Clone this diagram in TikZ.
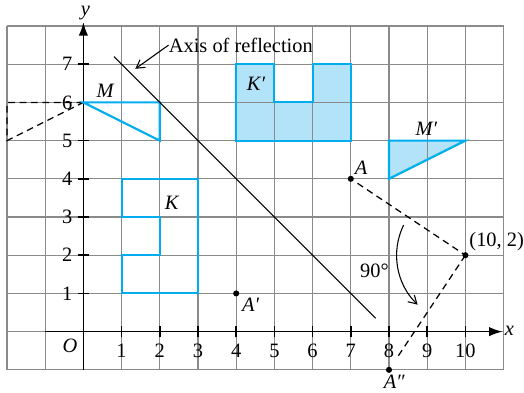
\documentclass[tikz,border=0pt]{standalone}
\usepackage{fontspec}
\setmainfont{Liberation Serif}
\usetikzlibrary{arrows.meta}
\definecolor{sblue}{HTML}{00AEEF}
\definecolor{sfill}{HTML}{B3E3F9}
\definecolor{gridgray}{HTML}{8A8A8A}
\begin{document}
\begin{tikzpicture}[x=1cm,y=1cm,font=\fontsize{15.2}{18}\selectfont,
  shapeline/.style={draw=sblue,line width=1.6pt,line join=miter},
  shapefill/.style={fill=sfill},
  axisline/.style={line width=1.1pt,-{Latex[length=10pt,width=7pt]}},
  dashline/.style={line width=0.9pt,dash pattern=on 5pt off 3.5pt},
  tick/.style={line width=1.1pt},
  dot/.style={fill=black},
  lbl/.style={inner sep=0pt}
]
\useasboundingbox (-2.183,-1.581) rectangle (11.534,8.681);
% fills
\fill[shapefill] (4,5) -- (7,5) -- (7,7) -- (6,7) -- (6,6) -- (5,6) -- (5,7) -- (4,7) -- cycle;
\fill[shapefill] (8,4) -- (10,5) -- (8,5) -- cycle;
% grid
\draw[gridgray,line width=0.8pt] (-2,-1) grid (11,8);
% axes
\draw[axisline] (-1,0) -- (10.97,0);
\draw[axisline] (0,-1) -- (0,8.1);
\node[lbl] (xl) at (11.15,0.02) {\textit{x}};
\node[lbl] (yl) at (0.05,8.33) {\textit{y}};
\node[lbl] (O) at (-0.35,-0.38) {\textit{O}};
\foreach \i in {1,...,10}{
  \draw[tick] (\i,-0.15) -- (\i,0.15);
  \node[lbl] (xt\i) at (\i,-0.5) {\i};
}
\foreach \i in {1,...,7}{
  \draw[tick] (-0.15,\i) -- (0.15,\i);
  \node[lbl] (yt\i) at (-0.42,\i) {\i};
}
% reflected M in y-axis (dashed)
\coordinate (m1) at (0,6);
\coordinate (m2) at (-2,6);
\coordinate (m3) at (-2,5);
\draw[dashline] (m1) -- (m2) -- (m3) -- (m1);
% shapes
\draw[shapeline] (0,6) -- (2,6) -- (2,5) -- cycle;
\draw[shapeline] (1,1) -- (3,1) -- (3,4) -- (1,4) -- (1,3) -- (2,3) -- (2,2) -- (1,2) -- cycle;
\draw[shapeline] (4,5) -- (7,5) -- (7,7) -- (6,7) -- (6,6) -- (5,6) -- (5,7) -- (4,7) -- cycle;
\draw[shapeline] (8,4) -- (10,5) -- (8,5) -- cycle;
\node[lbl] (Ml) at (0.58,6.31) {\textit{M}};
\node[lbl] (Kl) at (2.32,3.37) {\textit{K}};
\node[lbl] (Kpl) at (4.52,6.49) {\textit{K′}};
\node[lbl] (Mpl) at (8.98,5.31) {\textit{M′}};
% axis of reflection
\coordinate (r1) at (0.8,7.2);
\coordinate (r2) at (7.65,0.35);
\draw[line width=0.9pt] (r1) -- (r2);
\node[lbl,anchor=west] (axl) at (2.23,7.5) {Axis of reflection};
\coordinate (axt) at (1.36,6.88);
\draw[line width=0.8pt,-{Straight Barb[length=6pt,width=7pt]}] (axl.west) -- (axt);
% points
\coordinate (A) at (7,4);
\coordinate (Ap) at (4,1);
\coordinate (App) at (8,-1);
\coordinate (C) at (10,2);
\draw[dashline,shorten <=6pt] (A) -- (C);
\draw[dashline,shorten >=0.32cm] (C) -- (App);
\fill[dot] (A) circle (0.08);
\fill[dot] (Ap) circle (0.08);
\fill[dot] (App) circle (0.08);
\fill[dot] (C) circle (0.08);
\node[lbl] (Al) at (7.27,4.28) {\textit{A}};
\node[lbl] (Apl) at (4.38,0.7) {\textit{A′}};
\node[lbl] (Appl) at (8.14,-1.32) {\textit{A″}};
\node[lbl,anchor=west] (Cl) at (10.1,2.36) {(10, 2)};
% rotation arc
\draw[line width=0.8pt,-{Straight Barb[length=6pt,width=7pt]}] (C) ++(154:1.8) arc[start angle=154,end angle=226,radius=1.8];
\node[lbl] (ang) at (7.62,1.58) {90°};
\end{tikzpicture}
\end{document}
